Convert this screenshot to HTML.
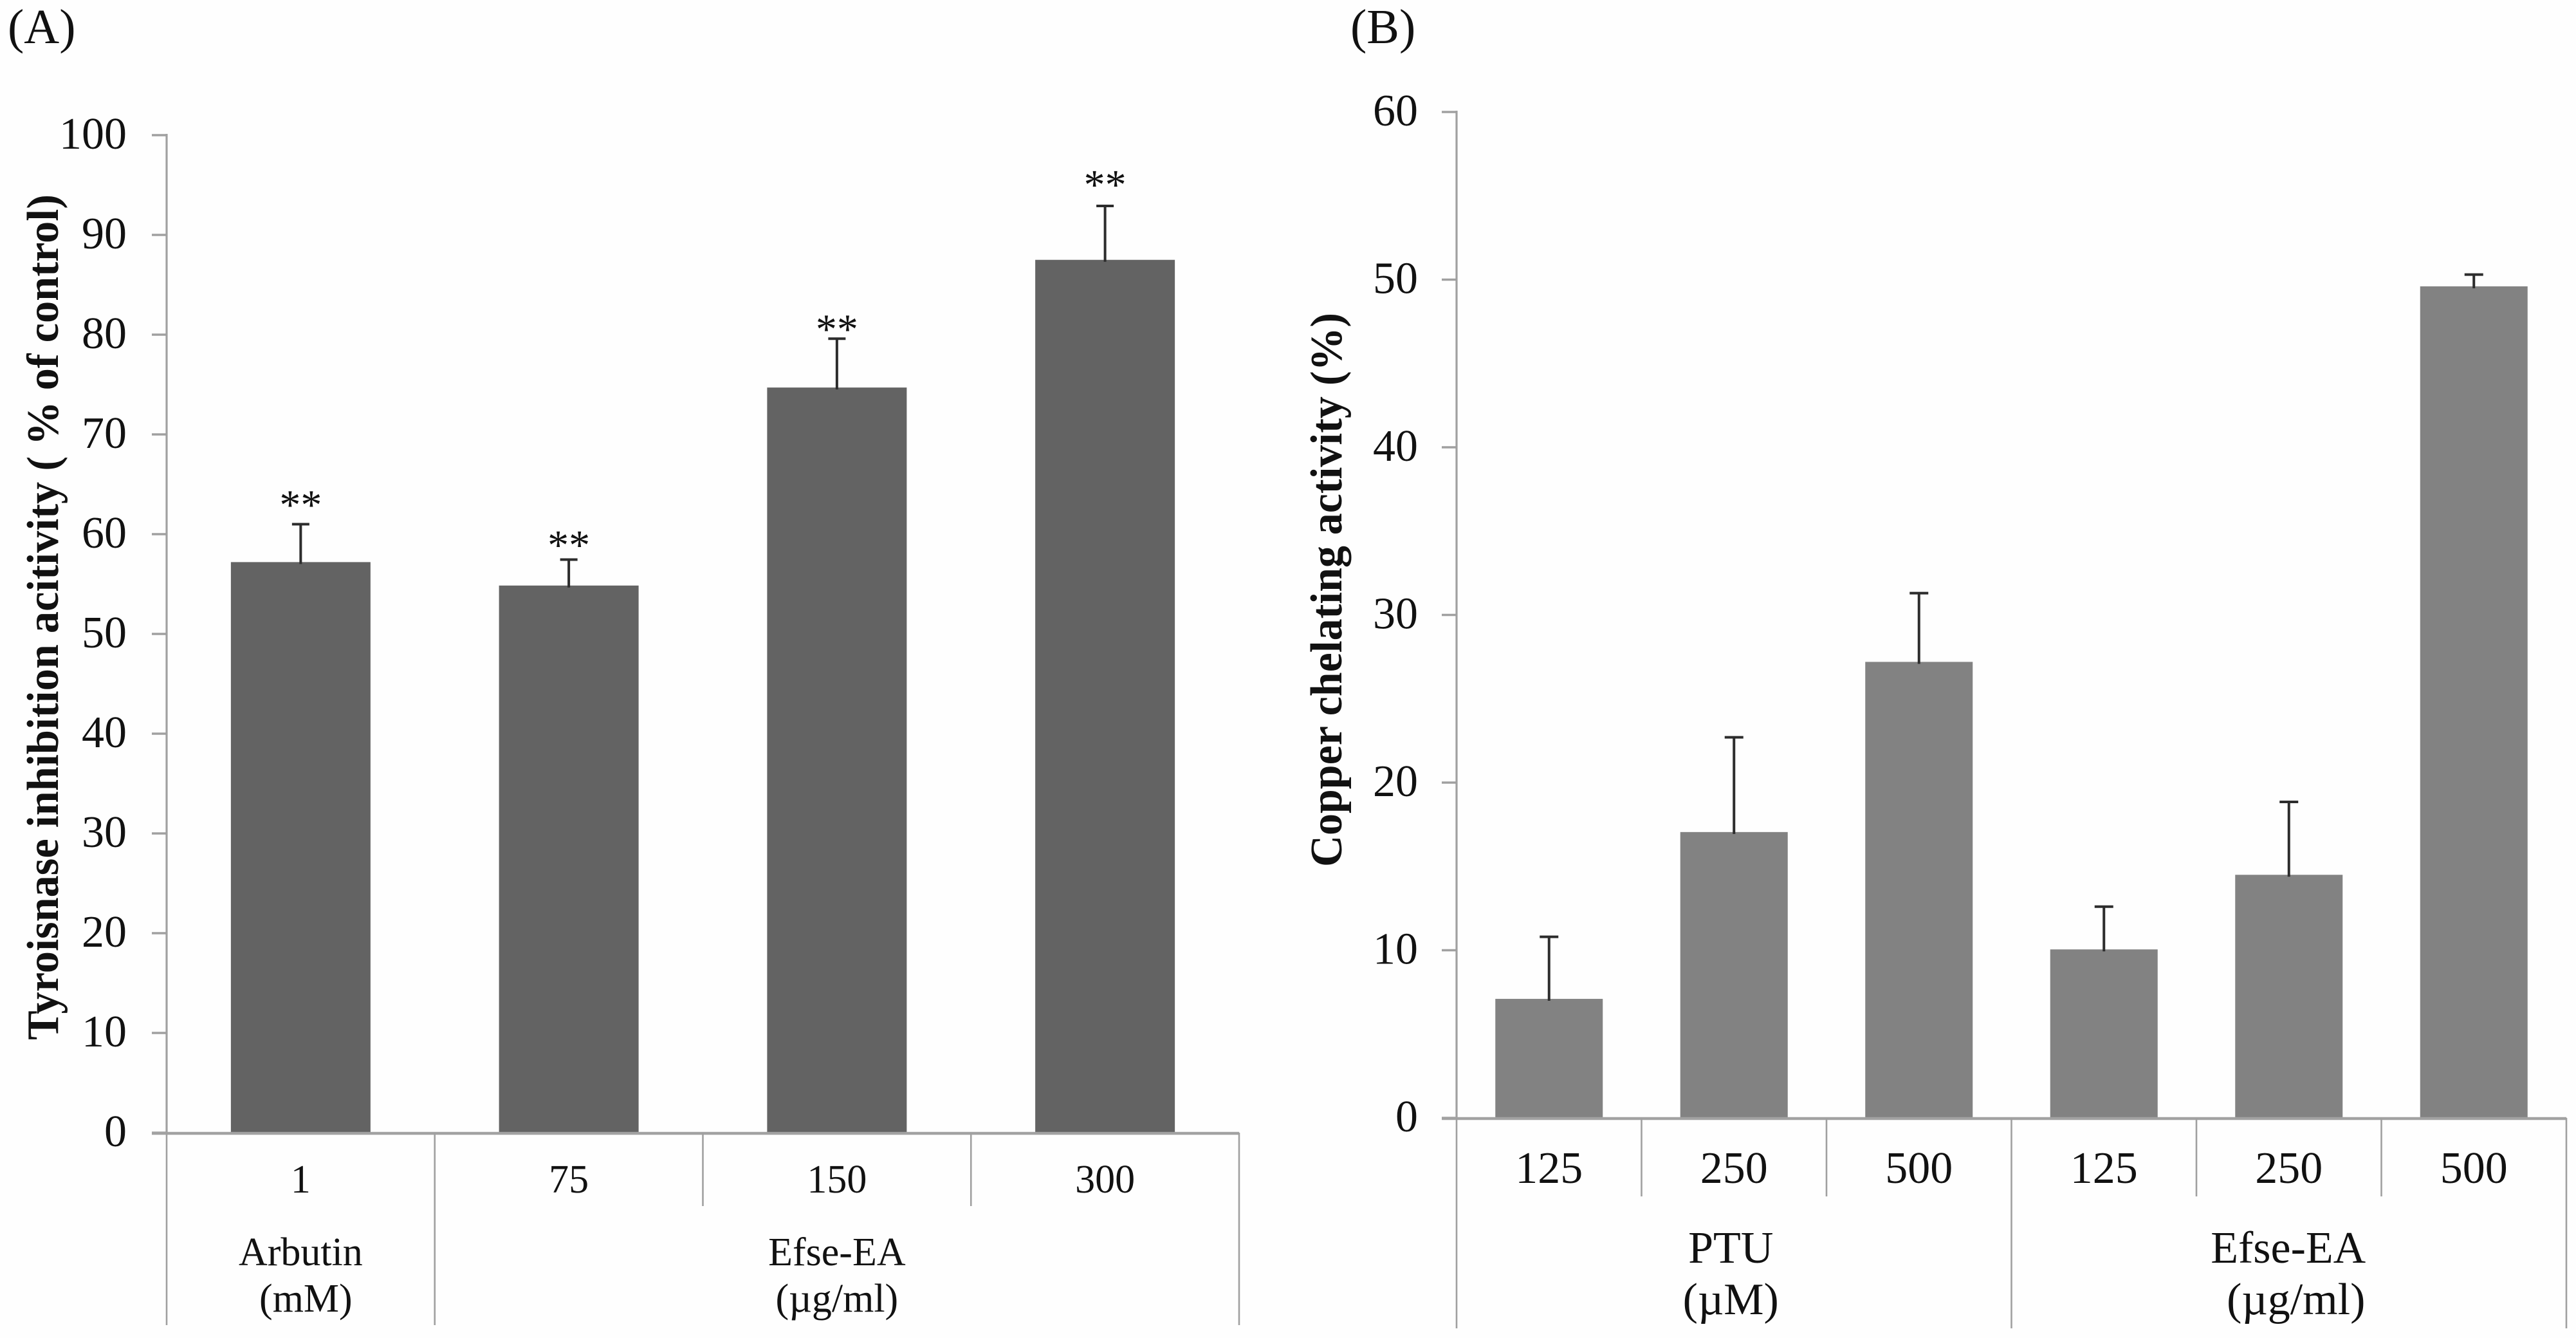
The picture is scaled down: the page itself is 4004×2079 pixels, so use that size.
<!DOCTYPE html>
<html lang="en">
<head>
<meta charset="utf-8">
<title>Tyrosinase inhibition and copper chelating activity</title>
<style>
  html, body { margin: 0; padding: 0; background: #fefefe; }
  svg { display: block; }
  text { font-family: "Liberation Serif", "Noto Serif CJK SC", serif; fill: #111; }
</style>
</head>
<body>
<svg id="figure" xmlns="http://www.w3.org/2000/svg" width="4004" height="2079" viewBox="0 0 4004 2079">
  <rect x="0" y="0" width="4004" height="2079" fill="#fefefe"/>
  <text x="12" y="67" font-size="76">(A)</text>
  <text x="2099" y="67" font-size="76">(B)</text>
  <text transform="translate(90 1616) rotate(-90)" font-size="70" font-weight="bold" textLength="1314" lengthAdjust="spacingAndGlyphs">Tyroisnase inhibition acitivity ( % of control)</text>
  <text transform="translate(2085 1347) rotate(-90)" font-size="70" font-weight="bold" textLength="861" lengthAdjust="spacingAndGlyphs">Copper chelating activity (%)</text>
  <g id="chart-a"></g>
  <g id="chart-b"></g>
</svg>
<script>
// Panel A data
const categoriesA = ["1", "75", "150", "300"];
const valuesA = [57.2, 54.85, 74.7, 87.5];
const errorsA = [3.8, 2.6, 4.9, 5.4];
const starLevelsA = [63.4, 59.35, 81.0, 95.5];
const ticksA = [0, 10, 20, 30, 40, 50, 60, 70, 80, 90, 100];
const groupNamesA = ["Arbutin", "Efse-EA"];
const groupUnitsA = ["(mM)", "(µg/ml)"];
const groupSizesA = [1, 3];

// Panel B data
const categoriesB = ["125", "250", "500", "125", "250", "500"];
const valuesB = [7.1, 17.05, 27.2, 10.05, 14.5, 49.6];
const errorsB = [3.7, 5.65, 4.1, 2.55, 4.35, 0.7];
const starLevelsB = [];
const ticksB = [0, 10, 20, 30, 40, 50, 60];
const groupNamesB = ["PTU", "Efse-EA"];
const groupUnitsB = ["(µM)", "(µg/ml)"];
const groupSizesB = [3, 3];

const SVG_NS = "http://www.w3.org/2000/svg";

function mk(parent, tag, attrs, content) {
  const el = document.createElementNS(SVG_NS, tag);
  for (const key in attrs) el.setAttribute(key, attrs[key]);
  if (content !== undefined) el.textContent = content;
  parent.appendChild(el);
  return el;
}

function drawChart(parent, d, L) {
  const step = (L.right - L.left) / d.categories.length;
  const xBand = i => L.left + step * i;
  const xMid = i => xBand(i) + step / 2;
  const yVal = v => L.base - (v / L.maxTick) * (L.base - L.top);
  const axisColor = "#a0a0a0";

  // bars
  d.values.forEach((v, i) => {
    const bar = mk(parent, "rect", {
      x: xMid(i) - L.barWidth / 2, y: yVal(v),
      width: L.barWidth, height: L.base - yVal(v), fill: L.barColor
    });
    
    
  });

  // error bars
  d.values.forEach((v, i) => {
    const top = yVal(v + d.errors[i]);
    const stem = mk(parent, "line", {
      x1: xMid(i), x2: xMid(i), y1: yVal(v) + 3, y2: top,
      stroke: "#2c2c2c", "stroke-width": 4
    });
    
    
    const cap = mk(parent, "line", {
      x1: xMid(i) - L.capWidth / 2, x2: xMid(i) + L.capWidth / 2, y1: top, y2: top,
      stroke: "#2c2c2c", "stroke-width": 4
    });
    
    
  });

  // significance stars
  d.stars.forEach((s, i) => {
    const star = mk(parent, "text", {
      x: xMid(i), y: yVal(s) + 29, "font-size": 66, "text-anchor": "middle"
    }, "**");
    
    
  });

  // y axis line
  const yAxis = mk(parent, "line", {
    x1: L.left, x2: L.left, y1: L.top - 2, y2: L.base,
    stroke: axisColor, "stroke-width": 3.2
  });
  
  

  // y ticks and labels
  d.ticks.forEach(t => {
    const tick = mk(parent, "line", {
      x1: L.tickLeft, x2: L.left, y1: yVal(t), y2: yVal(t),
      stroke: axisColor, "stroke-width": 3.4
    });
    
    
    const label = mk(parent, "text", {
      x: L.labelRight, y: yVal(t) + 21, "font-size": 70, "text-anchor": "end"
    }, String(t));
    
    
  });

  // x axis baseline
  const xAxis = mk(parent, "line", {
    x1: L.tickLeft, x2: L.right, y1: L.base + 1, y2: L.base + 1,
    stroke: "#a2a2a2", "stroke-width": 4.4
  });
  
  

  // separators: long at group boundaries, short between categories
  const longIdx = [0];
  d.groupSizes.reduce((sum, n) => { longIdx.push(sum + n); return sum + n; }, 0);
  for (let i = 0; i <= d.categories.length; i++) {
    const sep = mk(parent, "line", {
      x1: xBand(i), x2: xBand(i), y1: L.base,
      y2: longIdx.includes(i) ? L.longBottom : L.shortBottom,
      stroke: axisColor, "stroke-width": 2.6
    });
    
    
  }

  // category labels
  d.categories.forEach((c, i) => {
    const label = mk(parent, "text", {
      x: xMid(i), y: L.catBaseline, "font-size": L.catFont, "text-anchor": "middle"
    }, c);
    
    
  });

  // group labels
  let start = 0;
  d.groupSizes.forEach((n, g) => {
    const mid = xBand(start) + step * n / 2;
    const name = mk(parent, "text", {
      x: mid + L.nameShift[g], y: L.nameBaseline, "font-size": L.catFont, "text-anchor": "middle"
    }, d.groupNames[g]);
    
    
    const unit = mk(parent, "text", {
      x: mid + L.unitShift[g], y: L.unitBaseline, "font-size": L.catFont, "text-anchor": "middle"
    }, d.groupUnits[g]);
    
    
    start += n;
  });
}

drawChart(document.getElementById("chart-a"), {
  categories: categoriesA, values: valuesA, errors: errorsA, stars: starLevelsA,
  ticks: ticksA, groupNames: groupNamesA, groupUnits: groupUnitsA, groupSizes: groupSizesA
}, {
  id: "a", left: 259, right: 1926, top: 210, base: 1760, maxTick: 100,
  tickLeft: 236, labelRight: 197, barWidth: 217, capWidth: 27, barColor: "#636363",
  longBottom: 2059, shortBottom: 1874, catBaseline: 1853, catFont: 62,
  nameBaseline: 1966, unitBaseline: 2038, nameShift: [0, 0], unitShift: [8, 0]
});

drawChart(document.getElementById("chart-b"), {
  categories: categoriesB, values: valuesB, errors: errorsB, stars: starLevelsB,
  ticks: ticksB, groupNames: groupNamesB, groupUnits: groupUnitsB, groupSizes: groupSizesB
}, {
  id: "b", left: 2264, right: 3989, top: 174, base: 1737, maxTick: 60,
  tickLeft: 2241, labelRight: 2204, barWidth: 167, capWidth: 29, barColor: "#828282",
  longBottom: 2064, shortBottom: 1859, catBaseline: 1838, catFont: 70,
  nameBaseline: 1962, unitBaseline: 2042, nameShift: [-5, -1], unitShift: [-5, 11]
});
</script>
</body>
</html>
